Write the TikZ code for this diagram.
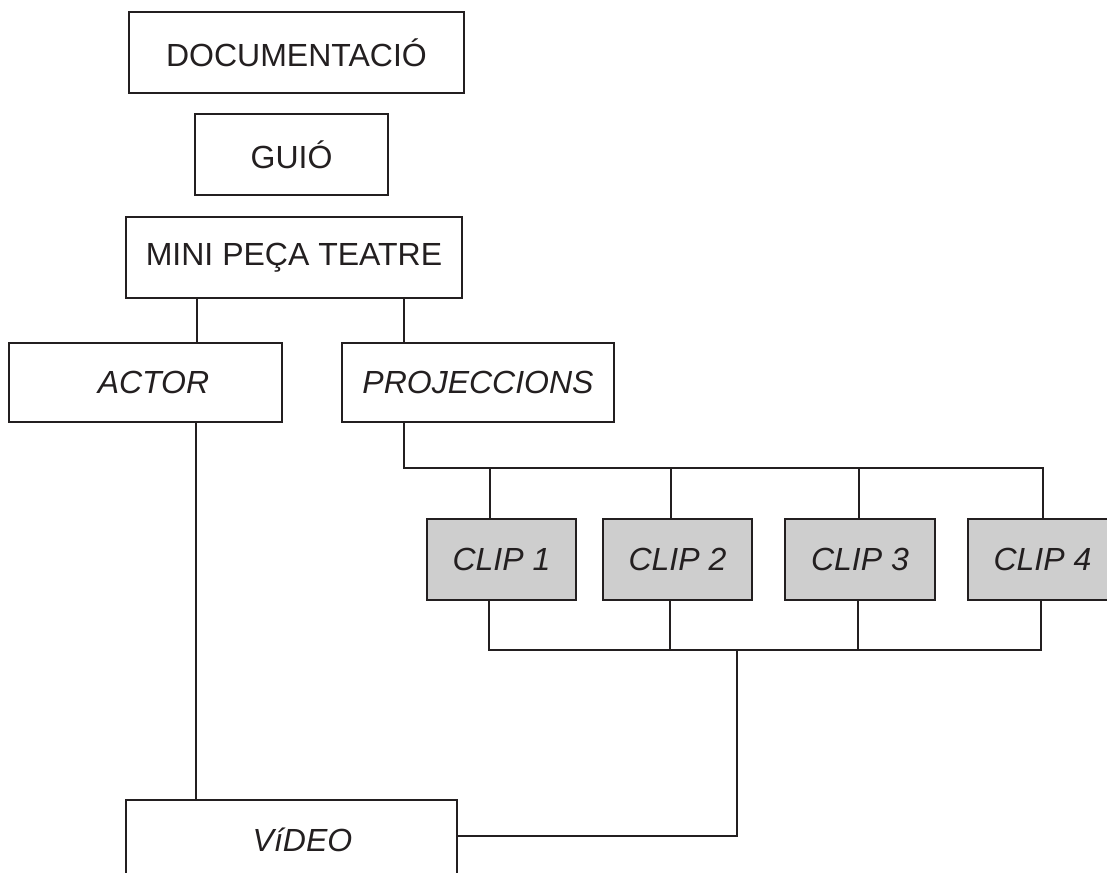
\documentclass[tikz,border=0pt]{standalone}
\usepackage{fontspec}
\setmainfont{Liberation Sans}
\definecolor{ink}{RGB}{35,31,32}
\definecolor{clipfill}{RGB}{206,206,206}
\begin{document}
\begin{tikzpicture}[x=1pt,y=-1pt,
  every node/.style={font=\fontsize{32}{37}\selectfont, text=ink},
  box/.style={draw=ink, line width=2.7pt, inner sep=0pt, fill=white},
  itbox/.style={box, font=\fontsize{32}{37}\selectfont\itshape},
  clipbox/.style={itbox, fill=clipfill, minimum width=149pt, minimum height=81pt},
  wire/.style={draw=ink, line width=2.6pt}]
\useasboundingbox (0,0) rectangle (1107,872);
\clip (0,0) rectangle (1107,872);
\node[box, minimum width=335pt, minimum height=81pt] (doc) at (296.5,52.5) {DOCUMENTACIÓ};
\node[box, minimum width=193pt, minimum height=81pt] (guio) at (291.5,154.5) {GUIÓ};
\node[box, minimum width=336pt, minimum height=81pt] (mini) at (294,257.5) {MINI PEÇA TEATRE};
\node[itbox, minimum width=273pt, minimum height=79pt] (actor) at (145.5,382.5) {\hspace*{16pt}ACTOR};
\node[itbox, minimum width=272pt, minimum height=79pt] (proj) at (478,382.5) {PROJECCIONS};
\node[clipbox] (c1) at (501.5,559.5) {CLIP 1};
\node[clipbox] (c2) at (677.5,559.5) {CLIP 2};
\node[clipbox, minimum width=150pt] (c3) at (860,559.5) {CLIP 3};
\node[clipbox] (c4) at (1042.5,559.5) {CLIP 4};
\node[itbox, minimum width=331pt, minimum height=80pt] (video) at (291.5,840) {\hspace*{22pt}VíDEO};
% coordinates for bus lines
\coordinate (topL) at (404,468);
\coordinate (topR) at (1043,468);
\coordinate (botL) at (489,650);
\coordinate (botR) at (1041,650);
\coordinate (botM) at (737,650);
\coordinate (vidR) at (737,836);
% connectors
\draw[wire] (197,0 |- mini.south) -- (197,0 |- actor.north);
\draw[wire] (404,0 |- mini.south) -- (404,0 |- proj.north);
\draw[wire] (196,0 |- actor.south) -- (196,0 |- video.north);
\draw[wire] (404,0 |- proj.south) -- (topL) -- (topR) -- (1043,0 |- c4.north);
\draw[wire] (490,468) -- (490,0 |- c1.north);
\draw[wire] (671,468) -- (671,0 |- c2.north);
\draw[wire] (859,468) -- (859,0 |- c3.north);
\draw[wire] (489,0 |- c1.south) -- (botL) -- (botR) -- (1041,0 |- c4.south);
\draw[wire] (670,0 |- c2.south) -- (670,650);
\draw[wire] (858,0 |- c3.south) -- (858,650);
\draw[wire] (botM) -- (vidR) -- (video.east |- vidR);
\end{tikzpicture}
\end{document}
